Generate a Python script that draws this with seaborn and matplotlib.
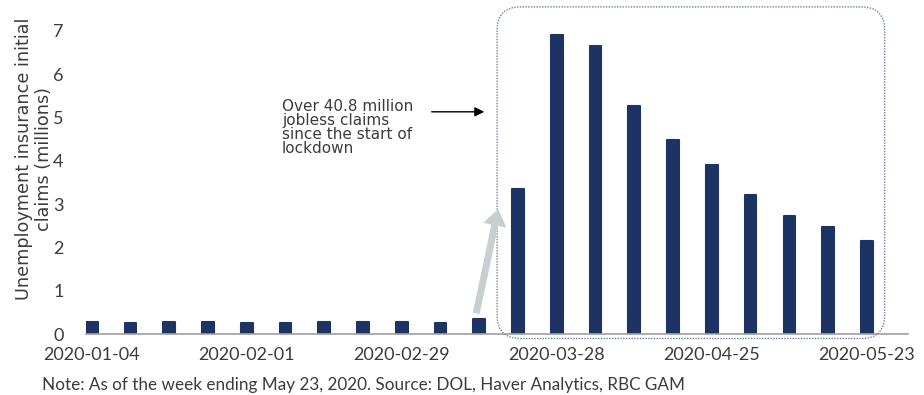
import matplotlib
matplotlib.use("Agg")
import matplotlib.pyplot as plt
import seaborn as sns
import pandas as pd
from matplotlib.patches import FancyBboxPatch

weeks = ["2020-01-04", "2020-01-11", "2020-01-18", "2020-01-25", "2020-02-01",
         "2020-02-08", "2020-02-15", "2020-02-22", "2020-02-29", "2020-03-07",
         "2020-03-14", "2020-03-21", "2020-03-28", "2020-04-04", "2020-04-11",
         "2020-04-18", "2020-04-25", "2020-05-02", "2020-05-09", "2020-05-16",
         "2020-05-23"]
claims = [0.27, 0.26, 0.27, 0.27, 0.26, 0.26, 0.27, 0.27, 0.27, 0.26,
          0.36, 3.35, 6.90, 6.65, 5.27, 4.48, 3.90, 3.22, 2.72, 2.48, 2.15]
tick_labels = ["2020-01-04", "2020-02-01", "2020-02-29", "2020-03-28", "2020-04-25", "2020-05-23"]
annotation = "Over 40.8 million\njobless claims\nsince the start of\nlockdown"
ylabel = "Unemployment insurance initial\nclaims (millions)"
note = "Note: As of the week ending May 23, 2020. Source: DOL, Haver Analytics, RBC GAM"

sns.set_style("white")
plt.rcParams['font.family'] = ['Lato', 'DejaVu Sans']
text_col = "#3c3c3c"
bar_col = "#1d3363"

df = pd.DataFrame({"week": weeks, "claims": claims})

fig = plt.figure(figsize=(9.24, 3.95), dpi=100)
ax = fig.add_axes([0.093, 0.154, 0.890, 0.834])
sns.barplot(data=df, x="week", y="claims", color=bar_col, width=0.3, ax=ax,
            saturation=1, edgecolor=bar_col, linewidth=1.5)
for p in ax.patches:
    p.set_joinstyle("round")

ax.set_xlim(-0.15, 21.07)
ax.set_ylim(0, 7.6)
ax.set_yticks(range(0, 8))
ax.set_xticks([weeks.index(t) for t in tick_labels])
ax.set_xticklabels(tick_labels)
ax.tick_params(axis="both", length=0, labelsize=13, colors=text_col)
ax.tick_params(axis="x", pad=9)
ax.tick_params(axis="y", pad=16)
for s in ["top", "right", "left"]:
    ax.spines[s].set_visible(False)
ax.spines["bottom"].set_color("#a0a0a0")
ax.spines["bottom"].set_linewidth(1.2)
ax.set_xlabel("")
ax.set_ylabel("")
fig.text(0.0368, 0.597, ylabel, rotation=90, ha="center", va="center",
         multialignment="center", fontsize=12.7, color=text_col, linespacing=1.1,
         family="DejaVu Sans")

# dotted rounded box
box = FancyBboxPatch((10.46, -0.1), 10.0, 7.65,
                     boxstyle="round,pad=0,rounding_size=0.6", mutation_aspect=0.9,
                     fill=False, edgecolor="#6f82a8", linestyle=(0, (1, 1)), lw=1.0,
                     clip_on=False, zorder=3)
ax.add_patch(box)

# annotation text and black arrow
ax.text(4.91, 5.43, annotation, fontsize=11, color=text_col, linespacing=0.93,
        va="top", ha="left", family="DejaVu Sans")
ax.annotate("", xy=(10.2, 5.13), xytext=(8.7, 5.13),
            arrowprops=dict(arrowstyle="-|>", color="black", lw=1.0, mutation_scale=14))

# gray thick arrow
ax.annotate("", xy=(10.49, 2.89), xytext=(9.92, 0.48),
            arrowprops=dict(width=5, headwidth=17, headlength=12, color="#c9ced1",
                            shrink=0, lw=0), zorder=4)

fig.text(0.045, 0.013, note, fontsize=12.3, color=text_col, va="baseline")

fig.savefig("out.png", dpi=100)
